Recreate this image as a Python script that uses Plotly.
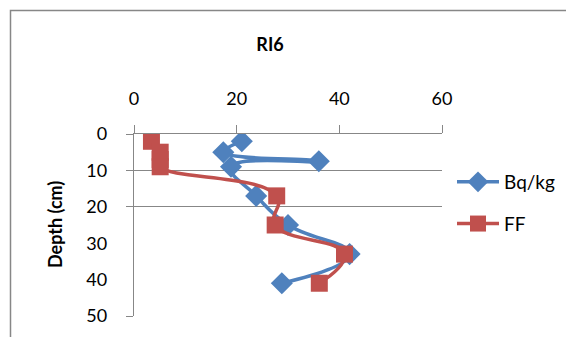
import plotly.graph_objects as go

# Data
depth_bq = [2, 5, 7.5, 9, 17, 25, 33, 41]
bq_values = [21.0, 17.4, 36.0, 18.9, 23.8, 30.0, 42.0, 28.8]
depth_ff = [2, 5, 7, 9, 17, 25, 33, 41]
ff_values = [3.4, 5.1, 5.1, 5.1, 27.8, 27.5, 41.0, 36.1]
x_ticks = [0, 20, 40, 60]
y_ticks = [0, 10, 20, 30, 40, 50]
y_grid_ticks = [0, 10, 20, 50]

W, H = 566, 337
L, R, T, B = 134, 124, 134, 21
pw = W - L - R
ph = H - T - B

FONT = "Lato"
GRAY = "#878787"
BLUE = "#4F81BD"
RED = "#C0504D"

fig = go.Figure()
fig.add_trace(go.Scatter(
    x=bq_values, y=depth_bq, name="Bq/kg", mode="lines+markers",
    line=dict(color=BLUE, width=3.5, shape="spline", smoothing=1.3),
    marker=dict(symbol="diamond", size=17, color=BLUE),
    legendgroup="a",
))
fig.add_trace(go.Scatter(
    x=ff_values, y=depth_ff, name="FF", mode="lines+markers",
    line=dict(color=RED, width=3.5, shape="spline", smoothing=1.3),
    marker=dict(symbol="square", size=17, color=RED),
    legendgroup="b",
))

fig.update_layout(
    template="none",
    width=W, height=H,
    margin=dict(l=L, r=R, t=T, b=B, pad=0, autoexpand=False),
    paper_bgcolor="white", plot_bgcolor="white",
    font=dict(family=FONT, size=18, color="#000000"),
    showlegend=True,
    legend=dict(x=(452 - L) / pw, y=1 - (163 - T) / ph, xanchor="left", yanchor="top",
                font=dict(family=FONT, size=19), tracegroupgap=14,
                bgcolor="rgba(0,0,0,0)", itemwidth=42),
    xaxis=dict(side="top", range=[0, 60], tickvals=x_ticks, ticks="outside", ticklen=8,
               tickcolor=GRAY, showline=True, linecolor=GRAY, linewidth=1.3,
               showgrid=False, zeroline=False, ticklabelstandoff=13, automargin=False,
               tickfont=dict(family=FONT, size=18)),
    yaxis=dict(range=[50, 0], tickvals=y_ticks, ticks="", showline=True, linecolor=GRAY,
               linewidth=1.3, showgrid=False, zeroline=False, ticklabelstandoff=22,
               automargin=False, tickfont=dict(family=FONT, size=18)),
    yaxis2=dict(range=[50, 0], overlaying="y", side="left", tickvals=y_grid_ticks,
                ticks="outside", ticklen=7, tickcolor=GRAY, showticklabels=False,
                showgrid=True, gridcolor=GRAY, gridwidth=1.3, showline=False, zeroline=False,
                automargin=False),
    title=dict(text="<b>RI6</b>", x=270 / W, xref="container", xanchor="center",
               y=1 - 45 / H, yref="container", yanchor="middle",
               font=dict(family=FONT, size=18)),
    annotations=[dict(text="<b>Depth (cm)</b>", textangle=-90, xref="paper", yref="paper",
                      x=(55 - L) / pw, y=0.5, showarrow=False, xanchor="center", yanchor="middle",
                      font=dict(family=FONT, size=18))],
    shapes=[dict(type="rect", xref="paper", yref="paper",
                 x0=(10.5 - L) / pw, x1=(W + 20 - L) / pw,
                 y0=-(B + 20) / ph, y1=1 + (T - 10.5) / ph,
                 line=dict(color=GRAY, width=1.5), layer="below")],
)
# invisible trace to activate yaxis2
fig.add_trace(go.Scatter(x=[None], y=[None], yaxis="y2", showlegend=False, hoverinfo="skip"))

fig.write_html("out.html", config={"displayModeBar": False},
               post_script="document.body.style.margin='0';document.body.style.overflow='hidden';")
